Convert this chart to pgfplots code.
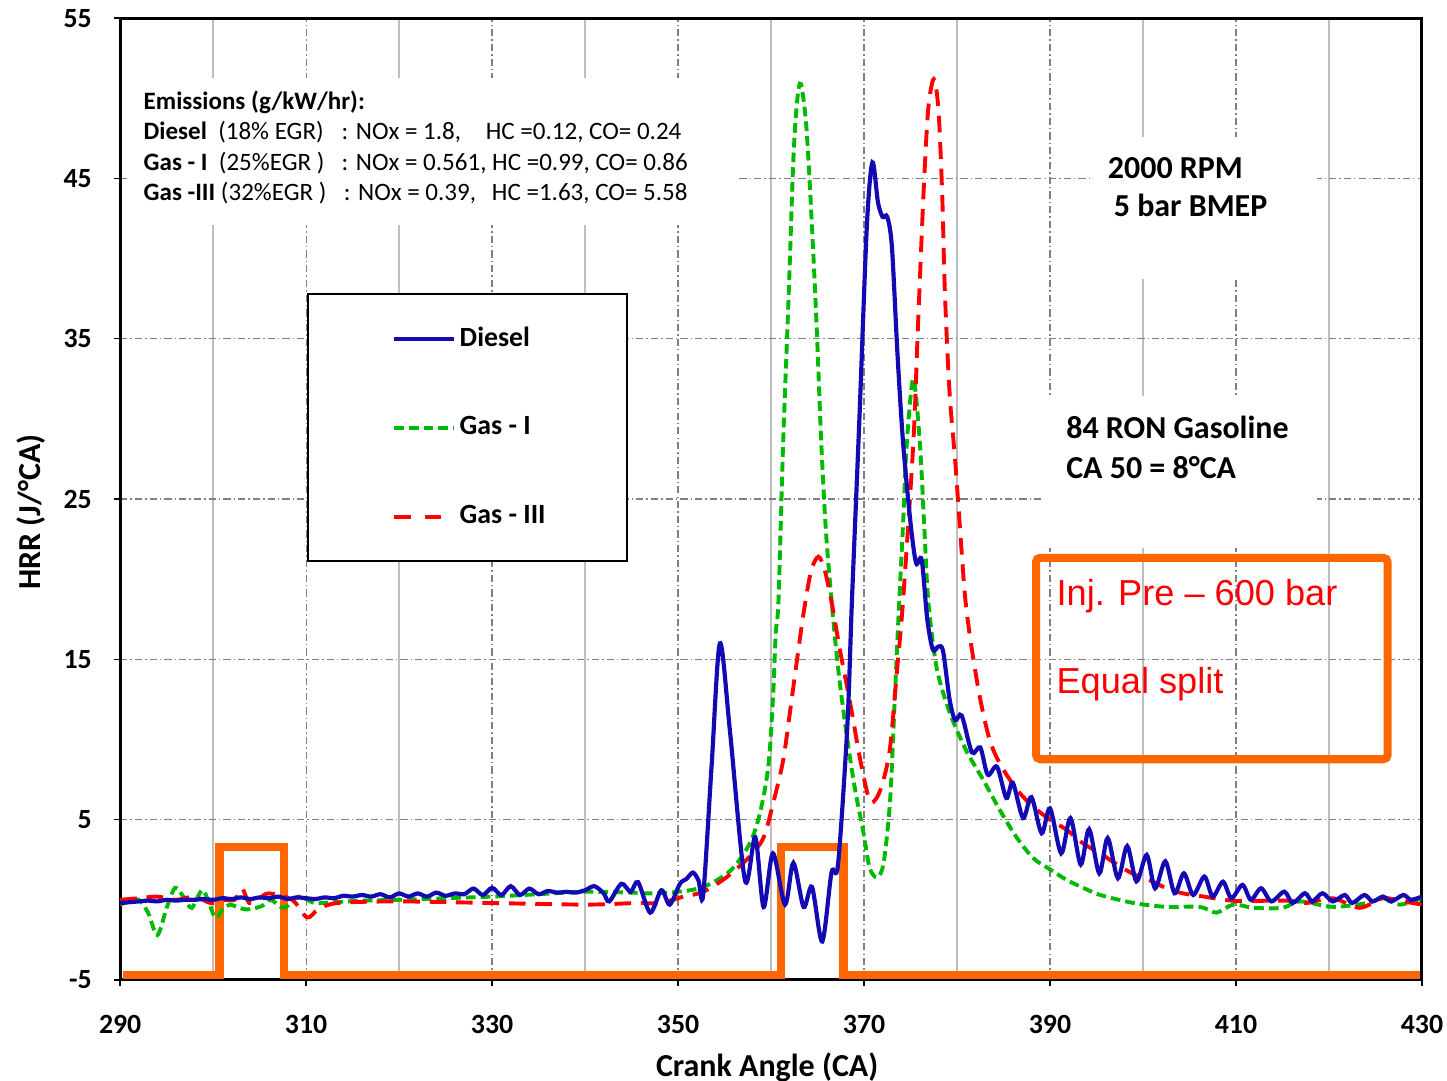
\documentclass[border=0pt]{standalone}
\usepackage{fontspec}
\setmainfont{Carlito}
\newfontfamily\arialfont{Liberation Sans}
\usepackage{pgfplots}
\pgfplotsset{compat=1.18}
\definecolor{dblue}{RGB}{20,10,180}
\definecolor{dgreen}{RGB}{0,185,0}
\definecolor{dred}{RGB}{255,0,0}
\definecolor{orng}{RGB}{255,102,0}
\definecolor{gridgray}{RGB}{128,128,128}
\definecolor{minorgray}{RGB}{190,190,190}
\begin{document}
\begin{tikzpicture}
\begin{axis}[
  at={(0,0)}, anchor=south west,
  scale only axis, width=468pt, height=345.8pt,
  xmin=290, xmax=430, ymin=-5, ymax=55,
  xtick={290,310,...,430}, xticklabels={290,310,330,350,370,390,410,430},
  minor xtick={300,320,...,420},
  ytick={-5,5,...,55}, yticklabels={-5,5,15,25,35,45,55},
  tick align=outside, tick pos=left,
  major tick length=2.2pt, minor tick length=0pt,
  xmajorgrids=true, ymajorgrids=true, xminorgrids=true,
  major grid style={gridgray, line width=0.45pt, dash pattern=on 2.6pt off 1.1pt on 0.5pt off 1.1pt},
  minor grid style={minorgray, line width=0.5pt},
  axis line style={black, line width=1.1pt},
  tick style={black, line width=0.5pt},
  xticklabel style={font=\bfseries\fontsize{10}{12}\selectfont, yshift=-7pt},
  yticklabel style={font=\bfseries\fontsize{10}{12}\selectfont, xshift=-4.5pt},
  xlabel={Crank Angle (CA)}, ylabel={HRR (J/°CA)},
  every axis x label/.style={at={(axis description cs:0.497,-0.0905)}, anchor=center, font=\bfseries\fontsize{11.5}{13}\selectfont},
  every axis y label/.style={at={(axis description cs:-0.0684,0.4865)}, rotate=90, anchor=center, font=\bfseries\fontsize{11.5}{13}\selectfont},
  legend style={at={(axis cs:310.08,37.84)}, anchor=north west, draw=black, line width=0.7pt, fill=white,
    inner sep=0pt, row sep=0pt, column sep=0pt, nodes={inner sep=0pt},
    font=\bfseries\fontsize{10}{12}\selectfont},
  legend cell align=left,
  legend image code/.code={\path[draw=none,fill=none] (0pt,-16pt) rectangle (54.6pt,16pt); \draw[#1] (31pt,0pt) -- (52.6pt,0pt);},
]
\addlegendimage{dblue, line width=1.5pt, solid}
\addlegendentry{\makebox[60.2pt][l]{Diesel}}
\addlegendimage{dgreen, line width=1.4pt, dash pattern=on 3.5pt off 1.8pt}
\addlegendentry{\makebox[60.2pt][l]{Gas - I}}
\addlegendimage{dred, line width=1.4pt, dash pattern=on 6pt off 5pt}
\addlegendentry{\makebox[60.2pt][l]{Gas - III}}

% white backgrounds behind the text blocks
\fill[white] (axis cs:290.75,42.1) rectangle (axis cs:356.3,51.27);
\fill[white] (axis cs:394.3,38.75) rectangle (axis cs:418.7,47.56);
\fill[white] (axis cs:389.5,21.95) rectangle (axis cs:418.7,31.43);

% orange injection marker
\addplot[orng, line width=3pt, line join=miter, forget plot] coordinates {
(290.3,-4.69) (300.7,-4.69) (300.7,3.3) (307.6,3.3) (307.6,-4.69)
(361.1,-4.69) (361.1,3.3) (367.8,3.3) (367.8,-4.69) (429.8,-4.69)};

% Gas - I
\addplot[dgreen, line width=1.4pt, dash pattern=on 3.5pt off 1.8pt, smooth, tension=0.5, forget plot] coordinates {
(290,-0.3) (291,-0.1) (292,0) (293,-0.8) (294,-2.2) (295,-0.5) (295.9,0.74) (296.8,0.2)
(297.7,-0.5) (298.9,0.6) (300.2,-1.1) (301,-0.6) (301.8,-0.3) (303.5,-0.6) (305.2,-0.4)
(306.2,0) (307.6,-0.5) (309.2,0.2) (310.9,-0.2) (313,-0.15) (316,-0.05) (320,0) (325,0.1)
(330,0.2) (335,0.35) (340,0.5) (345,0.45) (347,0.4) (350,0.5) (352.7,0.8) (355.6,1.8)
(357.7,3.5) (358.8,5.4) (359.7,8.3) (360.2,12.5) (360.5,16.6) (360.8,18.7) (361.3,28.5)
(361.9,37.8) (362.4,46.2) (362.8,49.8) (363.2,50.9) (363.8,48.2) (364.4,42) (364.9,35.8)
(365.4,28.5) (365.9,23) (366.5,18.7) (367.2,14.5) (368.1,10.4) (369,7) (369.9,4.3)
(370.6,2.0) (371.4,1.4) (372.1,2.3) (372.8,6.2) (373.3,12.5) (373.7,17.6) (374.2,23.5)
(374.6,28.5) (375.3,32.5) (376,28.5) (376.5,23) (376.9,18.7) (377.8,14.5) (379.2,11.7)
(381,9.3) (382.8,7.5) (384.6,5.6) (386.4,3.9) (388.2,2.6) (390,1.9) (391.8,1.24)
(393.6,0.74) (395.4,0.3) (399,-0.2) (402.5,-0.44) (406.1,-0.44) (407.9,-0.8) (409.7,-0.3)
(411.9,-0.5) (415,-0.5) (416.9,-0.1) (420.4,-0.44) (424.1,-0.2) (425.8,0.1) (427.6,-0.3) (430,0.1)};

% Gas - III
\addplot[dred, line width=1.4pt, dash pattern=on 6pt off 3.5pt, smooth, tension=0.5, forget plot] coordinates {
(290,0) (292,0.1) (294,0.2) (296,0) (298,0.2) (299.7,-0.2) (301,0) (302.3,0) (303.1,0.7)
(303.9,-0.2) (305,0.1) (306,0.4) (308.5,0) (310.1,-1.1) (311.3,-0.6) (313.4,-0.2) (320,-0.1)
(330,-0.2) (340,-0.3) (345.5,-0.2) (348,-0.2) (350.6,0.2) (352.7,0.5) (355.2,1.4) (357.7,2.7)
(359.2,3.9) (360.3,6.2) (361.3,8.7) (362.1,12.0) (362.8,15) (363.5,17.9) (364.3,20.5)
(365.1,21.4) (365.8,20.5) (366.6,18.3) (367.4,15.6) (368.5,12.3) (369.6,8.7) (370.6,6.2)
(371.4,6.4) (372.1,7.5) (372.8,9.5) (373.5,14) (374.2,18.7) (375.3,28.5) (375.8,35.8)
(376.4,44.1) (376.9,49.3) (377.5,51.2) (378.0,49.3) (378.4,44.1) (378.7,37.8) (379.2,31.6)
(379.8,27.4) (380.4,22.5) (380.9,18.7) (381.6,15.6) (382.5,12.5) (383.5,10) (384.6,8.5)
(386.4,6.9) (388.2,5.8) (390,5.0) (391.8,4.36) (393.6,3.5) (395.4,2.9) (397.2,2.2) (399,1.6)
(400.8,1.2) (402.6,0.7) (404.3,0.4) (406.1,0.24) (409.7,-0.06) (413.3,-0.06) (415.8,-0.06)
(417.6,-0.2) (420.4,0.1) (423.3,-0.5) (425.8,0.1) (428,-0.1) (430,-0.3)};

% Diesel
\addplot[dblue, line width=1.5pt, smooth, tension=0.5, forget plot] coordinates {
(290,-0.2) (291,-0.15) (292,-0.1) (293,-0.05) (294,-0.1) (295,0) (296,-0.05) (297,0) (298,0)
(299,0.05) (300,0) (301,0.1) (302,0.05) (303,0.15) (304,0.05) (305,0.15) (306,0.1) (307,0.2)
(308,0.05) (309,0.15) (310,0.1) (311,0.05) (312,0.15) (313,0.1) (314,0.25) (315,0.2) (316,0.3)
(317,0.2) (318,0.35) (319,0.15) (320,0.4) (321,0.2) (322,0.4) (323,0.2) (324,0.45) (325,0.25)
(326,0.4) (327,0.35) (328,0.7) (329,0.3) (330,0.75) (331,0.3) (332,0.85) (333,0.3) (334,0.7)
(335,0.35) (336,0.55) (337,0.45) (338,0.5) (339,0.45) (340,0.6) (341,0.85) (342,0.4)
(342.6,-0.1) (343.9,1.0) (344.9,0.5) (345.7,1.1) (347,-0.8) (348.2,0.6) (349.1,-0.3)
(350.2,1.0) (350.9,1.3) (351.6,1.7) (352.2,1.2) (352.7,0.3) (353.6,8.3) (354.5,16.0)
(355.6,10.4) (357.2,1.2) (358.3,3.9) (359.2,-0.45) (360.2,2.9) (361.5,-0.3) (362.4,2.3)
(363.5,-0.45) (364.4,0.8) (365.5,-2.6) (366.5,1.7) (367.2,2.2) (368.2,10.8) (368.7,18.7)
(369.5,30) (370.3,42) (370.9,46.0) (371.5,43.5) (372.0,42.6) (372.5,42.6) (373.0,40.7)
(373.6,34) (374.2,28.5) (375.0,23.5) (375.6,21.0) (376.2,21.2) (376.8,17.5) (377.4,15.6)
(378.0,15.8) (378.5,15.5) (379.2,12.5) (379.8,11.2) (380.5,11.5) (381.6,9.2) (382.5,9.5)
(383.3,7.8) (384.3,8.3) (385.3,6.35) (386.0,7.3) (387.1,5.1) (388.0,6.4) (389.1,4.15)
(390.0,5.7) (391.2,2.9) (392.2,5.1) (393.3,2.2) (394.2,4.4) (395.3,1.65) (396.2,3.85)
(397.3,1.35) (398.3,3.35) (399.3,1.15) (400.4,2.8) (401.3,0.72) (402.4,2.4) (403.4,0.41)
(404.4,1.65) (405.4,0.3) (406.6,1.45) (407.5,0.2) (408.6,1.13) (409.5,0.1) (410.7,0.93)
(411.6,0) (412.7,0.72) (413.8,-0.1) (415.2,0.51) (416.1,-0.2) (417.4,0.41) (418.2,-0.1)
(419.3,0.41) (420.4,-0.1) (421.7,0.3) (422.5,-0.2) (423.8,0.3) (424.7,-0.1) (425.8,0.2)
(426.7,-0.1) (428,0.3) (428.8,0) (430,0.2)};

% text blocks
\node[anchor=base west, inner sep=0pt, font=\bfseries\fontsize{9}{11}\selectfont] at (axis cs:292.47,49.32) {Emissions (g/kW/hr):};
\node[anchor=base west, inner sep=0pt, font=\fontsize{9}{11}\selectfont] at (axis cs:292.47,47.40)
  {\makebox[71.2pt][l]{\textbf{Diesel}\ \ (18\% EGR)}\makebox[51.8pt][l]{: NOx = 1.8,}HC =0.12, CO= 0.24};
\node[anchor=base west, inner sep=0pt, font=\fontsize{9}{11}\selectfont] at (axis cs:292.47,45.51)
  {\makebox[71.2pt][l]{\textbf{Gas - I}\ \ (25\%EGR )}: NOx = 0.561, HC =0.99, CO= 0.86};
\node[anchor=base west, inner sep=0pt, font=\fontsize{9}{11}\selectfont] at (axis cs:292.47,43.63)
  {\makebox[72pt][l]{\textbf{Gas -III} (32\%EGR )}\makebox[53.2pt][l]{: NOx = 0.39,}HC =1.63, CO= 5.58};

\node[anchor=base west, inner sep=0pt, font=\bfseries\fontsize{11.5}{14}\selectfont] at (axis cs:396.16,44.99) {2000 RPM};
\node[anchor=base west, inner sep=0pt, font=\bfseries\fontsize{11.5}{14}\selectfont] at (axis cs:396.8,42.61) {5 bar BMEP};
\node[anchor=base west, inner sep=0pt, font=\bfseries\fontsize{11.5}{14}\selectfont] at (axis cs:391.69,28.75) {84 RON Gasoline};
\node[anchor=base west, inner sep=0pt, font=\bfseries\fontsize{11.5}{14}\selectfont] at (axis cs:391.69,26.28) {CA 50 = 8°CA};

\draw[orng, line width=2.9pt, rounded corners=1.5pt] (axis cs:388.5,21.33) rectangle (axis cs:426.3,8.77);
\node[anchor=base west, inner sep=0pt, text=dred, font=\arialfont\fontsize{13}{15}\selectfont] at (axis cs:390.65,18.33) {Inj. Pre – 600 bar};
\node[anchor=base west, inner sep=0pt, text=dred, font=\arialfont\fontsize{13}{15}\selectfont] at (axis cs:390.65,12.89) {Equal split};
\end{axis}
\pgfresetboundingbox
\path (-43.2pt,-36.3pt) rectangle (477pt,352.3pt);
\end{tikzpicture}
\end{document}
